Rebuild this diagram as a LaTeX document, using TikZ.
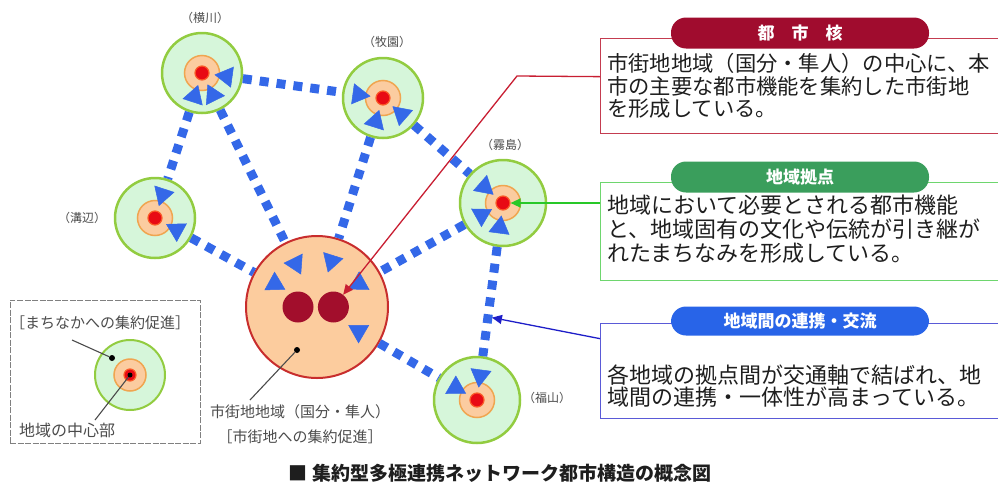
\documentclass[tikz,border=0pt]{standalone}
\usepackage{fontspec}
\setmainfont{Noto Sans CJK JP}
\usetikzlibrary{arrows.meta,positioning}

\definecolor{linkblue}{RGB}{52,104,232}
\definecolor{ringgreen}{RGB}{146,204,64}
\definecolor{areagreen}{RGB}{214,246,218}
\definecolor{centrefill}{RGB}{251,204,160}
\definecolor{centreline}{RGB}{240,165,80}
\definecolor{dotred}{RGB}{232,10,20}
\definecolor{dotring}{RGB}{250,90,40}
\definecolor{cityfill}{RGB}{252,204,158}
\definecolor{cityline}{RGB}{200,45,45}
\definecolor{kernred}{RGB}{162,14,44}
\definecolor{pillred}{RGB}{160,12,46}
\definecolor{pillgreen}{RGB}{58,158,92}
\definecolor{pillblue}{RGB}{40,100,232}
\definecolor{framered}{RGB}{196,60,80}
\definecolor{framegreen}{RGB}{110,214,110}
\definecolor{frameblue}{RGB}{90,90,215}
\definecolor{leadred}{RGB}{200,30,50}
\definecolor{leadgreen}{RGB}{40,200,40}
\definecolor{leadblue}{RGB}{30,30,200}
\definecolor{textdark}{RGB}{30,30,30}
\definecolor{textgray}{RGB}{75,75,75}

\tikzset{
  % town styles (area ring, centre, core dot)
  town/.style={circle,draw=ringgreen,line width=2.5pt,fill=areagreen,minimum size=80pt,inner sep=0pt},
  bigtown/.style={town,minimum size=86pt},
  centre/.style={circle,draw=centreline,line width=1.5pt,fill=centrefill,minimum size=35pt,inner sep=0pt},
  coredot/.style={circle,draw=dotring,line width=1.2pt,fill=dotred,minimum size=14pt,inner sep=0pt},
  pin/.style={circle,fill=black,minimum size=6pt,inner sep=0pt},
  city/.style={circle,draw=cityline,line width=2pt,fill=cityfill,minimum size=142pt,inner sep=0pt},
  kern/.style={circle,fill=kernred,minimum size=31pt,inner sep=0pt},
  cityhub/.style={circle,inner sep=0pt,minimum size=62pt},
  % links between the towns: dashes from ring to ring, heads drawn apart
  link/.style={draw=linkblue,line width=9pt,dash pattern=on 9pt off 8pt},
  heads/.style={draw=linkblue,line width=0.5pt,dash pattern=on 0pt off 600pt,
    shorten <=5pt,shorten >=5pt,{Triangle[length=18pt,width=21pt]}-{Triangle[length=18pt,width=21pt]}},
  % leader lines and text
  lead/.style={line width=1.3pt,-{Triangle[length=10pt,width=9pt]}},
  tagline/.style={draw=textgray,line width=1.1pt},
  place/.style={text=textgray,font=\fontsize{12}{14}\selectfont,inner sep=0pt},
  smalltext/.style={text=textgray,font=\fontsize{15}{25}\selectfont,inner sep=0pt,align=center},
  note/.style={draw,line width=1.3pt,minimum width=420pt,anchor=north west,inner sep=0pt},
  notetext/.style={text=textdark,anchor=west,align=left,inner sep=0pt},
  pill/.style={rectangle,rounded corners=15pt,text=white,font=\bfseries\fontsize{17}{19}\selectfont,
    minimum width=258pt,minimum height=31pt,inner sep=0pt},
  legendbox/.style={draw=gray,line width=1pt,dash pattern=on 6pt off 1.5pt,minimum width=190pt,minimum height=143pt},
}

\begin{document}
\begin{tikzpicture}[x=1pt,y=-1pt]
  \useasboundingbox (0,0) rectangle (998,493);
  \clip (0,0) rectangle (998,493);

  % towns
  \node[town] (yoko) at (202,73) {};
  \node[town] (maki) at (383,98) {};
  \node[town] (mizo) at (155,218) {};
  \node[bigtown] (kiri) at (503,203) {};
  \node[bigtown] (fuku) at (477,400) {};
  \node[centre] (yoko-c) at (yoko) {}; \node[coredot] (yoko-d) at (yoko) {};
  \node[centre] (maki-c) at (maki) {}; \node[coredot] (maki-d) at (maki) {};
  \node[centre] (mizo-c) at (mizo) {}; \node[coredot] (mizo-d) at (mizo) {};
  \node[centre] (kiri-c) at (kiri) {}; \node[coredot] (kiri-d) at (kiri) {};
  \node[centre] (fuku-c) at (fuku) {}; \node[coredot] (fuku-d) at (fuku) {};
  \node[place] (yoko-l) at (205,18) {（横川）};
  \node[place] (maki-l) at (387,42) {（牧園）};
  \node[place] (kiri-l) at (505,145) {（霧島）};
  \node[place] (mizo-l) at (82,218) {（溝辺）};
  \node[place] (fuku-l) at (547,398) {（福山）};

  % city core
  \node[city] (city) at (317,307) {};
  \node[cityhub] (hub) at (city) {};
  \node[kern] (kern1) at (298,307) {};
  \node[kern] (kern2) [right=4pt of kern1] {};
  \node[pin] (citydot) at (297,350) {};
  \coordinate (citytag) at (250,400);
  \draw[tagline] (citydot) -- (citytag);
  \node[smalltext] (city-t) at (300,424) {市街地地域（国分・隼人）\\［市街地への集約促進］};

  % links
  \draw[link] (yoko) -- (maki);
  \draw[link] (yoko) -- (mizo);
  \draw[link] (yoko) -- (city);
  \draw[link] (maki) -- (city);
  \draw[link] (maki) -- (kiri);
  \draw[link] (mizo) -- (city);
  \draw[link] (kiri) -- (city);
  \draw[link] (kiri) -- (fuku);
  \draw[link] (city) -- (fuku);
  \draw[heads] (yoko-d) -- (maki-d);
  \draw[heads] (yoko-d) -- (mizo-d);
  \draw[heads] (yoko-d) -- (hub);
  \draw[heads] (maki-d) -- (hub);
  \draw[heads] (maki-d) -- (kiri-d);
  \draw[heads] (mizo-d) -- (hub);
  \draw[heads] (kiri-d) -- (hub);
  \draw[heads] (kiri-d) -- (fuku-d);
  \draw[heads] (hub) -- (fuku-d);
  \path (kiri) -- coordinate[pos=0.64] (xing) (fuku);

  % legend
  \node[legendbox] (legend) at (105,371.5) {};
  \node[smalltext] (legend-t) at (100,323) {［まちなかへの集約促進］};
  \node[town,line width=2pt,minimum size=70pt] (sample) at (130,375) {};
  \node[centre,minimum size=32pt] (sample-c) at (sample) {};
  \node[coredot,minimum size=12pt] (sample-d) at (sample) {};
  \node[pin,minimum size=5pt] (core-p) at (sample) {};
  \node[pin] (area-p) at (112,358) {};
  \coordinate (area-tag) at (72,340);
  \coordinate (core-tag) at (95,420);
  \draw[tagline] (area-p) -- (area-tag);
  \draw[tagline] (core-p) -- (core-tag);
  \node[smalltext,font=\fontsize{16}{18}\selectfont] (core-t) at (67,430) {地域の中心部};

  % notes on the right
  \node[note,draw=framered,minimum height=95pt] (box1) at (600,38) {};
  \node[note,draw=framegreen,minimum height=98pt] (box2) at (600,182) {};
  \node[note,draw=frameblue,minimum height=95pt] (box3) at (600,323) {};
  \node[pill,fill=pillred] (box1-t) at (800,33) {都　市　核};
  \node[pill,fill=pillgreen] (box2-t) at (800,177) {地域拠点};
  \node[pill,fill=pillblue,minimum height=29pt] (box3-t) at (800,321) {地域間の連携・交流};
  \node[notetext,font=\fontsize{21.3}{22.5}\selectfont] (box1-x) at (607,86) {市街地地域（国分・隼人）の中心に、本\\市の主要な都市機能を集約した市街地\\を形成している。};
  \node[notetext,font=\fontsize{22}{24}\selectfont] (box2-x) at (607,229) {地域において必要とされる都市機能\\と、地域固有の文化や伝統が引き継が\\れたまちなみを形成している。};
  \node[notetext,font=\fontsize{22}{22.5}\selectfont] (box3-x) at (607,386) {各地域の拠点間が交通軸で結ばれ、地\\域間の連携・一体性が高まっている。};

  \coordinate (bend1) at (517,76);
  \draw[lead,color=leadred] ([yshift=9.5pt]box1.west) -- (bend1) -- (kern2);
  \draw[lead,color=leadgreen] (box2.west |- kiri-d) -- (kiri-d);
  \draw[lead,color=leadblue,shorten >=4pt] ([yshift=32.5pt]box3.west) -- (xing);

  \node[font=\bfseries\fontsize{19}{21}\selectfont,text=textdark] (title) at (500,473) {■ 集約型多極連携ネットワーク都市構造の概念図};
\end{tikzpicture}
\end{document}
